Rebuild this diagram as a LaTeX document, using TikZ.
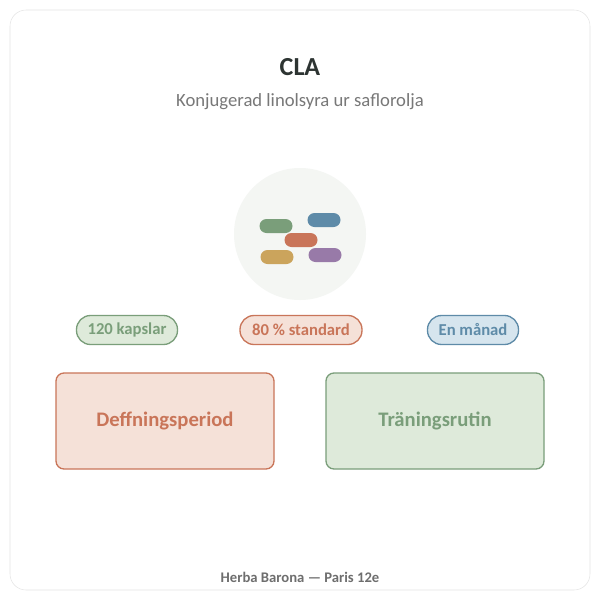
\documentclass[tikz,border=0pt]{standalone}
\usepackage{fontspec}
\setmainfont{Carlito}
\definecolor{gBorder}{RGB}{122,158,122}
\definecolor{gFill}{RGB}{222,234,218}
\definecolor{oBorder}{RGB}{201,117,89}
\definecolor{oFill}{RGB}{245,225,216}
\definecolor{bBorder}{RGB}{94,139,168}
\definecolor{bFill}{RGB}{214,229,238}
\definecolor{yPill}{RGB}{203,164,92}
\definecolor{pPill}{RGB}{152,122,168}
\tikzset{
  pill/.style={rounded corners=7*0.75pt,minimum width=33*0.75pt,minimum height=14*0.75pt,inner sep=0pt},
  badge/.style={draw=#1Border,fill=#1Fill,text=#1Border,rounded corners=14*0.75pt,line width=1pt,minimum height=29*0.75pt,inner sep=0pt,font=\fontsize{12.5}{14}\selectfont\bfseries},
  card/.style={draw=#1Border,fill=#1Fill,text=#1Border,rounded corners=8*0.75pt,line width=1pt,minimum width=218*0.75pt,minimum height=96*0.75pt,font=\fontsize{15.5}{18}\selectfont\bfseries}
}
\begin{document}
\begin{tikzpicture}[x=0.75pt,y=0.75pt,yscale=-1]
\useasboundingbox (0,0) rectangle (600,600);
%Shape: outer card
\draw [draw={rgb,255:red,228;green,228;blue,228},fill=white,rounded corners=12] (10,10) rectangle (590,590);
% Title
\node (title) at (300,67) {\fontsize{19.5}{22}\selectfont\bfseries\color[RGB]{45,52,50}CLA};
\node (subtitle) at (300,102) {\fontsize{14}{16}\selectfont\color[RGB]{120,120,120}Konjugerad linolsyra ur saflorolja};
%Shape: icon circle
\fill [color={rgb,255:red,244;green,246;blue,243}] (300,234) circle (66);
\node [pill,fill=gBorder] (pillG) at (276,226) {};
\node [pill,fill=bBorder] (pillB) at (324,220) {};
\node [pill,fill=oBorder] (pillO) at (301,240) {};
\node [pill,fill=yPill] (pillY) at (277,257) {};
\node [pill,fill=pPill] (pillP) at (325,255) {};
% badges
\node [badge=g,minimum width=101*0.75pt] (capsules) at (127,330) {120 kapslar};
\node [badge=o,minimum width=122*0.75pt] (dose) at (301,330) {80 \% standard};
\node [badge=b,minimum width=91*0.75pt] (duration) at (473,330) {En månad};
% cards
\node [card=o] (period) at (165,421) {Deffningsperiod};
\node [card=g] (routine) at (435,421) {Träningsrutin};
% footer
\node (footer) at (300,577) {\fontsize{11}{13}\selectfont\bfseries\color[RGB]{110,110,110}Herba Barona — Paris 12e};
\end{tikzpicture}
\end{document}
